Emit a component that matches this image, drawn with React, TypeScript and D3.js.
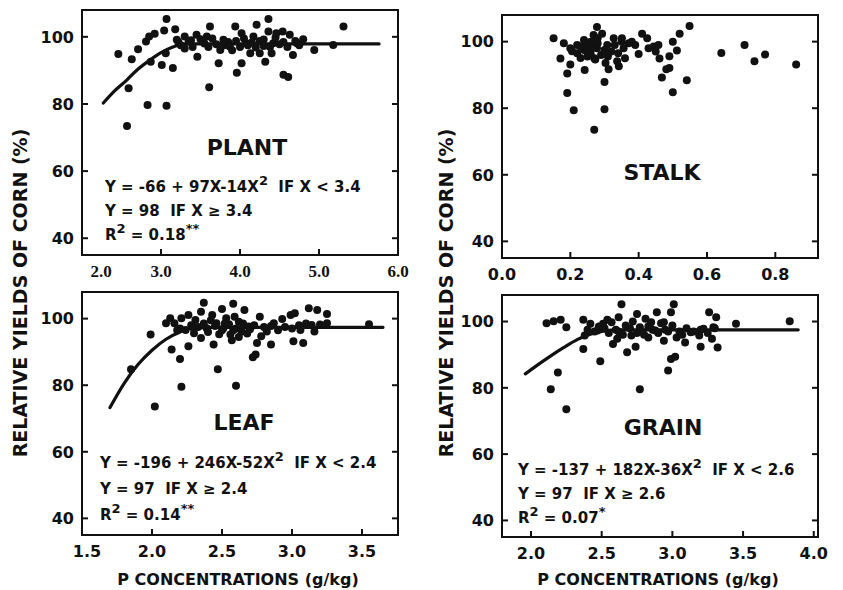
import React from "react";
import * as d3 from "d3";

// P concentration (g/kg) vs relative yield (%)
const plantPoints: [number, number][] = [
  [2.46, 94.9], [2.63, 93.3], [2.71, 96.3], [2.59, 84.7], [2.57, 73.4], [2.83, 79.7],
  [3.07, 79.5], [2.81, 98.6], [2.85, 100.1], [2.92, 100.9], [2.87, 92.6], [3.01, 91.6],
  [3.04, 101.9], [3.07, 105.3], [3.06, 95.1], [3.15, 90.7], [3.18, 102.3], [3.2, 99.1],
  [3.3, 100.1], [3.35, 98.6], [3.45, 100.6], [3.46, 94.1], [3.61, 85.0], [3.62, 103.1],
  [3.58, 100.1], [3.73, 92.1], [3.75, 96.1], [3.79, 99.1], [3.94, 103.1], [3.96, 89.3],
  [3.87, 97.1], [4.02, 92.1], [4.02, 101.1], [4.08, 98.1], [4.13, 95.1], [4.21, 103.6],
  [4.17, 100.1], [4.25, 95.1], [4.36, 105.3], [4.32, 92.6], [4.36, 101.6], [4.42, 98.1],
  [4.46, 101.1], [4.4, 95.1], [4.55, 88.7], [4.61, 88.0], [4.54, 101.6], [4.63, 100.6],
  [4.67, 94.6], [4.72, 98.1], [4.8, 99.3], [4.94, 96.1], [5.18, 97.6], [5.31, 103.1],
  [3.25, 97.5], [3.4, 97.0], [3.55, 98.0], [3.7, 97.8], [3.85, 98.5], [4.0, 97.0],
  [4.15, 98.3], [4.3, 97.3], [4.5, 97.8], [4.6, 97.0], [3.3, 96.5], [3.9, 96.0],
  [4.2, 96.8], [3.5, 99.3], [4.05, 99.5], [4.45, 99.8], [4.75, 97.5],
  [3.22, 98.5], [3.38, 99.0], [3.6, 97.0], [3.8, 97.5], [3.95, 98.8], [4.1, 97.5],
  [4.25, 98.8], [4.38, 97.0], [4.55, 98.5], [4.7, 98.8], [3.65, 99.5], [4.3, 99.2],
];

const stalkPoints: [number, number][] = [
  [0.151, 101.0], [0.181, 99.5], [0.171, 94.9], [0.191, 90.4], [0.191, 84.6], [0.21, 79.4],
  [0.2, 93.1], [0.205, 97.1], [0.22, 99.0], [0.23, 95.1], [0.242, 91.5], [0.249, 99.0],
  [0.259, 97.1], [0.268, 102.0], [0.27, 73.5], [0.278, 104.4], [0.278, 98.0], [0.273, 94.6],
  [0.293, 102.4], [0.3, 87.9], [0.3, 79.7], [0.303, 93.6], [0.312, 91.7], [0.308, 99.0],
  [0.327, 101.0], [0.337, 94.1], [0.342, 92.6], [0.351, 101.0], [0.356, 98.0], [0.371, 99.5],
  [0.39, 99.0], [0.4, 96.3], [0.41, 102.4], [0.425, 101.0], [0.429, 98.0], [0.444, 98.5],
  [0.458, 99.0], [0.461, 94.9], [0.468, 89.2], [0.481, 91.7], [0.49, 92.1], [0.49, 95.6],
  [0.5, 100.0], [0.5, 84.8], [0.512, 97.3], [0.52, 102.4], [0.541, 88.4], [0.549, 104.7],
  [0.642, 96.6], [0.71, 99.0], [0.739, 94.1], [0.77, 96.1], [0.861, 93.1],
  [0.22, 96.5], [0.24, 97.5], [0.25, 95.5], [0.26, 100.0], [0.27, 98.5], [0.29, 96.0],
  [0.31, 95.5], [0.32, 97.0], [0.33, 99.0], [0.28, 101.0], [0.24, 100.5], [0.2, 98.0],
  [0.36, 95.0], [0.34, 96.5], [0.38, 100.0], [0.45, 97.0],
  [0.23, 98.5], [0.26, 96.0], [0.28, 99.5], [0.3, 97.5], [0.35, 100.0], [0.27, 95.0], [0.25, 98.5],
];

const leafPoints: [number, number][] = [
  [1.99, 95.2], [1.85, 84.8], [2.02, 73.6], [2.14, 90.7], [2.2, 87.9], [2.21, 79.5],
  [2.26, 91.7], [2.1, 98.6], [2.13, 100.1], [2.16, 98.6], [2.21, 100.1], [2.26, 101.1],
  [2.24, 96.6], [2.3, 95.6], [2.31, 99.6], [2.35, 102.1], [2.35, 94.2], [2.37, 104.8],
  [2.39, 97.1], [2.43, 101.1], [2.44, 92.2], [2.47, 84.8], [2.46, 98.6], [2.5, 102.9],
  [2.51, 97.1], [2.53, 100.1], [2.56, 95.2], [2.58, 104.5], [2.59, 100.6], [2.6, 79.8],
  [2.62, 99.1], [2.64, 96.1], [2.66, 102.6], [2.69, 97.6], [2.72, 88.4], [2.74, 89.2],
  [2.75, 92.7], [2.77, 100.6], [2.78, 94.7], [2.82, 96.1], [2.85, 92.2], [2.87, 98.6],
  [2.93, 99.9], [2.99, 101.1], [3.01, 93.2], [3.02, 101.6], [3.06, 96.6], [3.08, 92.7],
  [3.12, 103.1], [3.14, 98.1], [3.18, 102.6], [3.16, 96.1], [3.25, 101.4], [3.25, 98.6],
  [3.55, 98.3],
  [2.2, 97.0], [2.28, 98.0], [2.33, 97.5], [2.4, 96.0], [2.45, 97.8], [2.5, 96.5],
  [2.55, 98.3], [2.6, 97.0], [2.65, 98.5], [2.7, 96.8], [2.8, 97.5], [2.9, 96.5],
  [2.95, 97.5], [3.05, 98.0], [2.18, 96.5], [2.42, 99.5], [2.48, 95.3], [2.57, 93.5],
  [2.62, 94.5], [2.68, 95.5],
  [2.3, 97.0], [2.37, 98.5], [2.52, 98.5], [2.58, 96.5], [2.73, 98.0], [2.85, 97.8],
  [3.0, 97.0], [3.1, 98.5], [3.2, 98.2],
];

const grainPoints: [number, number][] = [
  [2.11, 99.5], [2.16, 100.1], [2.21, 100.5], [2.25, 98.3], [2.14, 79.6], [2.19, 84.6],
  [2.25, 73.5], [2.37, 100.5], [2.37, 91.7], [2.38, 95.8], [2.42, 99.3], [2.49, 88.0],
  [2.47, 97.3], [2.51, 99.3], [2.58, 93.2], [2.61, 94.8], [2.57, 99.8], [2.62, 101.3],
  [2.64, 105.2], [2.68, 90.7], [2.67, 98.8], [2.71, 95.8], [2.74, 92.4], [2.75, 102.3],
  [2.77, 79.6], [2.77, 98.3], [2.81, 100.8], [2.83, 95.2], [2.85, 99.8], [2.89, 102.8],
  [2.88, 97.3], [2.94, 94.2], [2.94, 99.8], [2.97, 85.2], [2.99, 88.7], [3.02, 89.4],
  [3.01, 105.2], [2.99, 102.8], [3.0, 98.8], [3.03, 95.2], [3.09, 93.7], [3.13, 96.8],
  [3.19, 95.8], [3.2, 92.4], [3.22, 97.8], [3.26, 102.8], [3.28, 94.8], [3.31, 101.3],
  [3.29, 98.3], [3.32, 92.2], [3.45, 99.3], [3.83, 100.1],
  [2.45, 97.0], [2.52, 98.0], [2.55, 96.5], [2.6, 97.5], [2.65, 96.0], [2.7, 98.0],
  [2.78, 97.0], [2.8, 96.0], [2.86, 97.5], [2.9, 96.5], [2.95, 97.5], [3.05, 97.0],
  [3.1, 98.0], [3.15, 97.0], [2.4, 97.5], [2.54, 100.5], [2.72, 100.0], [2.92, 99.5],
  [2.48, 98.5], [2.62, 97.0], [2.75, 96.5], [2.83, 98.5], [2.97, 97.0], [3.07, 96.0],
  [3.2, 97.5], [3.25, 96.5], [3.3, 98.0],
];

// fitted response curves
const plantCurve: [number, number][] = [
  [2.27, 80.3], [2.4, 83.6], [2.57, 87.2], [2.7, 90.2], [2.86, 93.1], [3.0, 95.3],
  [3.15, 97.0], [3.3, 97.9], [5.76, 97.9],
];
const leafCurve: [number, number][] = [
  [1.7, 73.3], [1.8, 80.5], [1.9, 86.2], [2.0, 90.5], [2.1, 93.8], [2.2, 96.0],
  [2.3, 97.2], [2.4, 97.4], [3.65, 97.4],
];
const grainCurve: [number, number][] = [
  [1.96, 84.2], [2.05, 87.0], [2.135, 89.5], [2.23, 92.1], [2.33, 94.6], [2.42, 96.2],
  [2.51, 97.1], [2.62, 97.5], [3.89, 97.5],
];

const yTicks = [40, 60, 80, 100];
const plantTicks = [2, 3, 4, 5, 6];
const stalkTicks = [0, 0.2, 0.4, 0.6, 0.8];
const leafTicks = [1.5, 2, 2.5, 3, 3.5];
const grainTicks = [2, 2.5, 3, 3.5, 4];

type Part = { t: string; sup?: boolean };
const plantEq: Part[][] = [
  [{ t: "Y = -66 + 97X-14X" }, { t: "2", sup: true }, { t: "  IF X < 3.4" }],
  [{ t: "Y = 98  IF X ≥ 3.4" }],
  [{ t: "R" }, { t: "2", sup: true }, { t: " = 0.18" }, { t: "**", sup: true }],
];
const leafEq: Part[][] = [
  [{ t: "Y = -196 + 246X-52X" }, { t: "2", sup: true }, { t: "  IF X < 2.4" }],
  [{ t: "Y = 97  IF X ≥ 2.4" }],
  [{ t: "R" }, { t: "2", sup: true }, { t: " = 0.14" }, { t: "**", sup: true }],
];
const grainEq: Part[][] = [
  [{ t: "Y = -137 + 182X-36X" }, { t: "2", sup: true }, { t: "  IF X < 2.6" }],
  [{ t: "Y = 97  IF X ≥ 2.6" }],
  [{ t: "R" }, { t: "2", sup: true }, { t: " = 0.07" }, { t: "*", sup: true }],
];

const SANS = "'DejaVu Sans', Verdana, sans-serif";
const SERIF = "'Liberation Serif', 'Times New Roman', serif";
const INK = "#111";

const panels = [
  {
    name: "PLANT", box: [82, 10, 398, 255], xDomain: [2, 6], xTicks: plantTicks,
    points: plantPoints, curve: plantCurve, label: [247, 155], eq: plantEq, eqPos: [105, 192, 24],
    tickFont: SERIF, tickSize: 17, firstDx: 19,
  },
  {
    name: "STALK", box: [502, 15, 818, 258], xDomain: [0, 0.925], xTicks: stalkTicks,
    points: stalkPoints, curve: null, label: [662, 180], eq: null, eqPos: [0, 0, 0],
    tickFont: SANS, tickSize: 16, firstDx: 0,
  },
  {
    name: "LEAF", box: [82, 292, 398, 535], xDomain: [1.5, 3.757], xTicks: leafTicks,
    points: leafPoints, curve: leafCurve, label: [244, 430], eq: leafEq, eqPos: [100, 468, 26],
    tickFont: SANS, tickSize: 16, firstDx: 5,
  },
  {
    name: "GRAIN", box: [502, 295, 818, 537], xDomain: [1.795, 4.03], xTicks: grainTicks,
    points: grainPoints, curve: grainCurve, label: [663, 435], eq: grainEq, eqPos: [518, 475, 24],
    tickFont: SANS, tickSize: 16, firstDx: 0,
  },
];

const Panel = ({ p }: { p: (typeof panels)[number] }) => {
  const [l, t, r, b] = p.box;
  const x = d3.scaleLinear().domain(p.xDomain).range([l, r]);
  const y = d3.scaleLinear().domain([35, 108]).range([b, t]);
  const line = d3
    .line<[number, number]>()
    .x((d) => x(d[0]))
    .y((d) => y(d[1]))
    .curve(d3.curveMonotoneX);
  const fmt = d3.format(".1f");
  const tk = 6;

  return (
    <g>
      <rect x={l} y={t} width={r - l} height={b - t} fill="none" stroke={INK} strokeWidth={2} />
      {yTicks.map((v) => (
        <g key={v}>
          <line x1={l} x2={l + tk} y1={y(v)} y2={y(v)} stroke={INK} strokeWidth={2} />
          <line x1={r} x2={r - tk} y1={y(v)} y2={y(v)} stroke={INK} strokeWidth={2} />
          <text x={l - 8} y={y(v)} dy="0.36em" textAnchor="end" fontFamily={SANS}
            fontWeight="bold" fontSize={16} fill={INK}>{v}</text>
        </g>
      ))}
      {p.xTicks.map((v, i) => (
        <g key={v}>
          <line x1={x(v)} x2={x(v)} y1={b} y2={b - tk} stroke={INK} strokeWidth={2} />
          <text x={x(v) + (i === 0 ? p.firstDx : 0)} y={b + 22} textAnchor="middle"
            fontFamily={p.tickFont} fontWeight="bold" fontSize={p.tickSize} fill={INK}>{fmt(v)}</text>
        </g>
      ))}
      {p.curve && (
        <path d={line(p.curve) ?? ""} fill="none" stroke={INK} strokeWidth={3.2} strokeLinecap="round" />
      )}
      {p.points.map((d, i) => (
        <circle key={i} cx={x(d[0])} cy={y(d[1])} r={4} fill={INK} />
      ))}
      <text x={p.label[0]} y={p.label[1]} textAnchor="middle" fontFamily={SANS}
        fontWeight="bold" fontSize={22} fill={INK}>{p.name}</text>
      {p.eq &&
        p.eq.map((parts, li) => (
          <text key={li} x={p.eqPos[0]} y={p.eqPos[1] + li * p.eqPos[2]} fontFamily={SANS}
            fontWeight="bold" fontSize={15} fill={INK} style={{ whiteSpace: "pre" }}>
            {parts.map((pt, k) => {
              const prevSup = k > 0 && parts[k - 1].sup;
              const dy = pt.sup ? -7 : prevSup ? 7 : 0;
              return (
                <tspan key={k} dy={dy} fontSize={pt.sup ? 13 : 15}>{pt.t}</tspan>
              );
            })}
          </text>
        ))}
    </g>
  );
};

export default function App() {
  const yTitle = "RELATIVE YIELDS OF CORN (%)";
  const xTitle = "P CONCENTRATIONS (g/kg)";
  return (
    <svg width={843} height={590} style={{ position: "absolute", left: 0, top: 0, background: "#fff" }}>
      <rect width={843} height={590} fill="#fff" />
      {panels.map((p) => (
        <Panel key={p.name} p={p} />
      ))}
      {[20, 446].map((cx) => (
        <text key={cx} transform={`translate(${cx},293) rotate(-90)`} dy="0.36em" textAnchor="middle"
          fontFamily={SANS} fontWeight="bold" fontSize={19} fill={INK}>{yTitle}</text>
      ))}
      {[238, 658].map((cx) => (
        <text key={cx} x={cx} y={585} textAnchor="middle" fontFamily={SANS} fontWeight="bold"
          fontSize={16} fill={INK}>{xTitle}</text>
      ))}
    </svg>
  );
}
